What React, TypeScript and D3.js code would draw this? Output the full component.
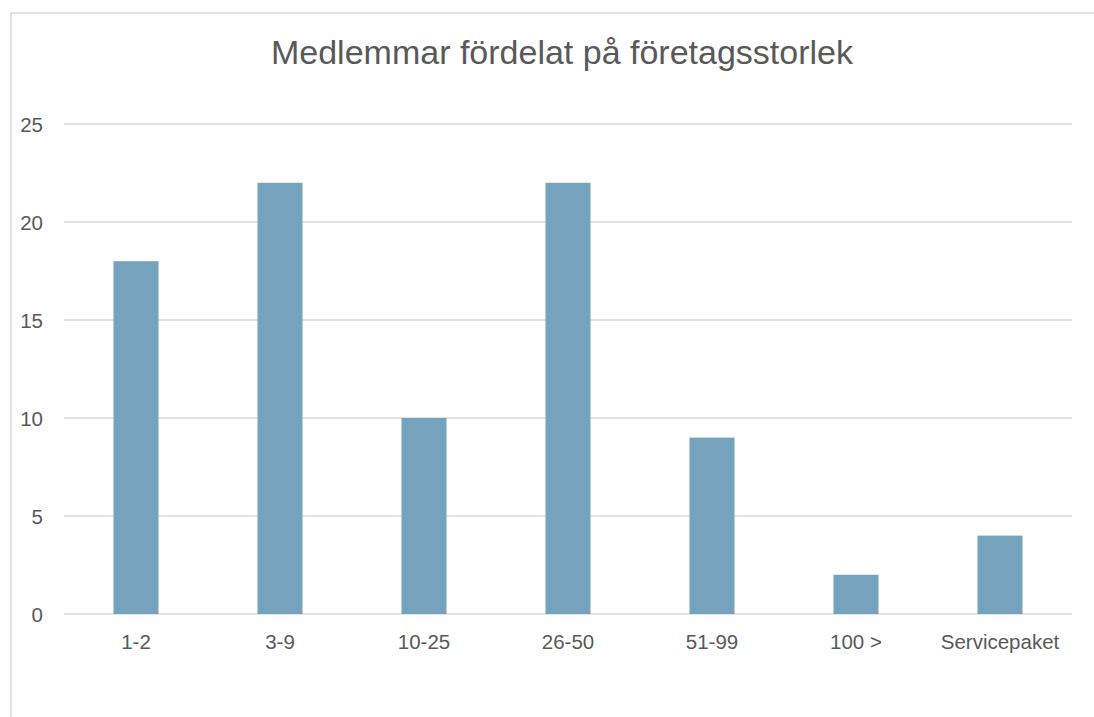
import { useRef, useEffect } from "react";
import * as d3 from "d3";

const categories = ["1-2", "3-9", "10-25", "26-50", "51-99", "100 >", "Servicepaket"];
const values = [18, 22, 10, 22, 9, 2, 4];
const yTicks = [0, 5, 10, 15, 20, 25];

const width = 1094;
const height = 717;
const font = "'Liberation Sans', Arial, sans-serif";

export default function App() {
  const svgRef = useRef<SVGSVGElement>(null);

  useEffect(() => {
    if (!svgRef.current) return;
    const svg = d3.select(svgRef.current);
    svg.selectAll("*").remove();

    const margin = { top: 124, right: 22, bottom: 103, left: 64 };
    const w = width - margin.left - margin.right;
    const h = 614 - margin.top;

    // chart border
    svg.append("rect")
      .attr("x", 11).attr("y", 13)
      .attr("width", width + 10).attr("height", height + 10)
      .attr("fill", "white").attr("stroke", "#d9d9d9").attr("stroke-width", 1.5);

    const x = d3.scaleBand<string>().domain(categories).range([0, w]).paddingInner(0.6875).paddingOuter(0.34375);
    const y = d3.scaleLinear().domain([0, 25]).range([h, 0]);

    const g = svg.append("g").attr("transform", `translate(${margin.left},${margin.top})`);

    g.selectAll("line.grid")
      .data(yTicks)
      .join("line")
      .attr("class", "grid")
      .attr("x1", 0).attr("x2", w)
      .attr("y1", (d) => y(d)).attr("y2", (d) => y(d))
      .attr("stroke", "#d9d9d9").attr("stroke-width", 1.3);

    g.selectAll("text.ytick")
      .data(yTicks)
      .join("text")
      .attr("class", "ytick")
      .attr("x", -21).attr("y", (d) => y(d) + 8)
      .attr("text-anchor", "end")
      .attr("fill", "#595959").attr("font-size", "20.5px").attr("font-family", font)
      .text((d) => d);

    g.selectAll("rect.bar")
      .data(values)
      .join("rect")
      .attr("class", "bar")
      .attr("x", (_, i) => x(categories[i])!)
      .attr("width", x.bandwidth())
      .attr("y", (d) => y(d))
      .attr("height", (d) => h - y(d))
      .attr("fill", "#76a3bd");

    g.selectAll("text.xtick")
      .data(categories)
      .join("text")
      .attr("class", "xtick")
      .attr("x", (d) => x(d)! + x.bandwidth() / 2)
      .attr("y", h + 35)
      .attr("text-anchor", "middle")
      .attr("fill", "#595959").attr("font-size", "20.5px").attr("font-family", font)
      .text((d) => d);

    svg.append("text")
      .attr("x", 562).attr("y", 64)
      .attr("text-anchor", "middle")
      .attr("fill", "#595959").attr("font-size", "34px").attr("font-family", font)
      .text("Medlemmar fördelat på företagsstorlek");
  }, []);

  return (
    <svg
      ref={svgRef}
      width={width}
      height={height}
      style={{ position: "absolute", left: 0, top: 0 }}
    />
  );
}
